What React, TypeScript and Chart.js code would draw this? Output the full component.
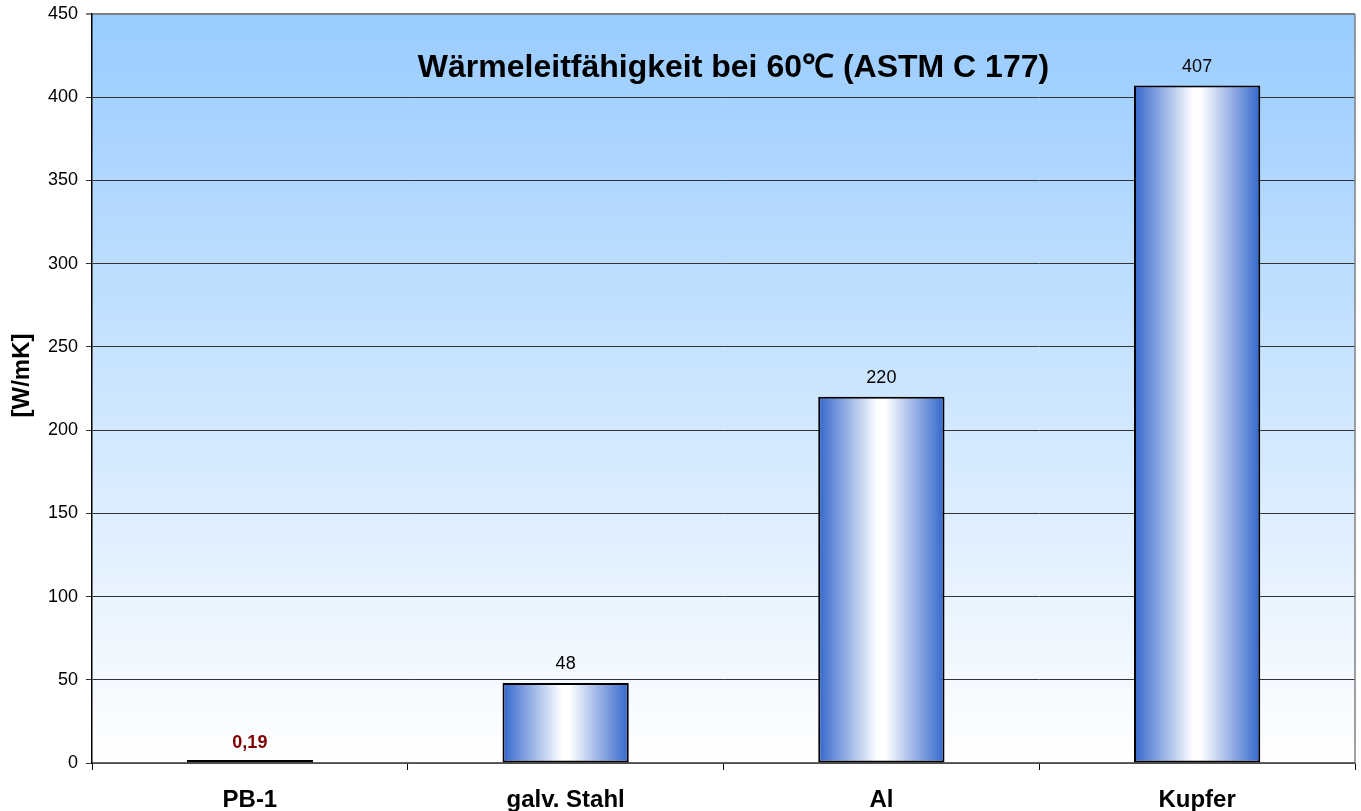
import React, { useEffect, useRef } from "react";
import { Chart, registerables } from "chart.js";

Chart.register(...registerables);

const categories = ["PB-1", "galv. Stahl", "Al", "Kupfer"];
const values = [0.19, 48, 220, 407];
const valueLabels = ["0,19", "48", "220", "407"];
const yTicks = [0, 50, 100, 150, 200, 250, 300, 350, 400, 450];
const chartTitle = "Wärmeleitfähigkeit bei 60℃ (ASTM C 177)";
const yAxisTitle = "[W/mK]";

const FONT = "'Liberation Sans', Arial, Helvetica, sans-serif";

const bgPlugin = {
  id: "plotBg",
  beforeDraw(chart: any) {
    const { ctx, chartArea: a } = chart;
    if (!a) return;
    ctx.save();
    const g = ctx.createLinearGradient(0, a.top, 0, a.bottom);
    g.addColorStop(0, "#99CCFF");
    g.addColorStop(1, "#FFFFFF");
    ctx.fillStyle = g;
    ctx.fillRect(a.left, a.top, a.right - a.left, a.bottom - a.top);
    ctx.restore();
  },
  afterDraw(chart: any) {
    const { ctx, chartArea: a } = chart;
    ctx.save();
    ctx.strokeStyle = "#808080";
    ctx.lineWidth = 1.5;
    ctx.beginPath();
    ctx.moveTo(a.right, a.top);
    ctx.lineTo(a.right, a.bottom);
    ctx.stroke();
    // y axis title
    ctx.translate(22, (a.top + a.bottom) / 2 - 13);
    ctx.rotate(-Math.PI / 2);
    ctx.font = `bold 24px ${FONT}`;
    ctx.fillStyle = "#000000";
    ctx.textAlign = "center";
    ctx.textBaseline = "middle";
    ctx.fillText(yAxisTitle, 0, 0);
    ctx.restore();
  },
};

const labelPlugin = {
  id: "valueLabels",
  afterDatasetsDraw(chart: any) {
    const { ctx, chartArea: a } = chart;
    const meta = chart.getDatasetMeta(0);
    ctx.save();
    ctx.textAlign = "center";
    ctx.textBaseline = "middle";
    meta.data.forEach((el: any, i: number) => {
      const { x, y } = el.getProps(["x", "y"], true);
      if (i === 0) {
        ctx.font = `bold 18px ${FONT}`;
        ctx.fillStyle = "#800000";
      } else {
        ctx.font = `18px ${FONT}`;
        ctx.fillStyle = "#000000";
      }
      ctx.fillText(valueLabels[i], x, y - (i === 0 ? 17 : 19));
    });
    ctx.font = `bold 32px ${FONT}`;
    ctx.fillStyle = "#000000";
    ctx.fillText(chartTitle, (a.left + a.right) / 2 + 10, a.top + 54);
    ctx.restore();
  },
};

export default function App() {
  const ref = useRef<HTMLCanvasElement>(null);
  useEffect(() => {
    document.body.style.margin = "0";
    const canvas = ref.current!;
    const chart = new Chart(canvas, {
      type: "bar",
      data: {
        labels: categories,
        datasets: [
          {
            data: values,
            backgroundColor: (c: any) => {
              const ch = c.chart;
              const xs = ch.scales && ch.scales.x;
              if (!ch.chartArea || !xs || c.dataIndex === undefined) return "#3366CC";
              const x = xs.getPixelForValue(c.dataIndex);
              const w = (xs.width / categories.length) * 0.4;
              const g = ch.ctx.createLinearGradient(x - w / 2, 0, x + w / 2, 0);
              g.addColorStop(0, "#3366CC");
              g.addColorStop(0.47, "#FFFFFF");
              g.addColorStop(0.53, "#FFFFFF");
              g.addColorStop(1, "#3366CC");
              return g;
            },
            borderColor: "#000000",
            borderWidth: 2,
            borderSkipped: false,
            minBarLength: 3,
            categoryPercentage: 1,
            barPercentage: 0.4,
          },
        ],
      },
      options: {
        animation: false,
        responsive: false,
        maintainAspectRatio: false,
        layout: { padding: { left: 0, top: 14, right: 6, bottom: 0 } },
        plugins: { legend: { display: false }, tooltip: { enabled: false }, title: { display: false } },
        scales: {
          x: {
            grid: { drawOnChartArea: false, offset: true, tickLength: 7, color: "#000000" },
            border: { color: "#666666", width: 1.5 },
            ticks: { color: "#000000", font: { family: FONT, size: 24, weight: "bold" }, padding: 16 },
            afterFit: (s: any) => {
              s.height = 48;
              s.paddingLeft = 0;
              s.paddingRight = 0;
            },
          },
          y: {
            min: 0,
            max: 450,
            afterBuildTicks: (s: any) => {
              s.ticks = yTicks.map((v) => ({ value: v }));
            },
            grid: {
              tickLength: 6,
              color: (c: any) => (c.tick && c.tick.value === 450 ? "#808080" : "#333333"),
              lineWidth: (c: any) => (c.tick && c.tick.value === 450 ? 2 : 1),
            },
            border: { color: "#000000", width: 1.5 },
            ticks: { color: "#000000", font: { family: FONT, size: 18 }, padding: 8 },
            afterFit: (s: any) => {
              s.width = 92;
              s.paddingTop = 0;
              s.paddingBottom = 0;
            },
          },
        },
      },
      plugins: [bgPlugin, labelPlugin],
    });
    return () => chart.destroy();
  }, []);
  return (
    <div style={{ position: "absolute", left: 0, top: 0, width: 1361, height: 811, background: "#fff" }}>
      <canvas ref={ref} width={1361} height={811} style={{ display: "block" }} />
    </div>
  );
}
